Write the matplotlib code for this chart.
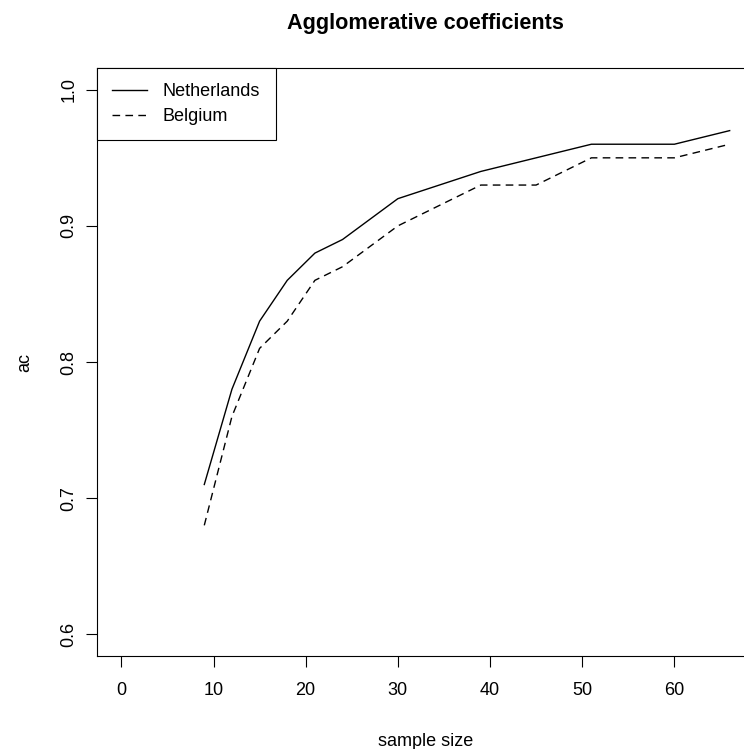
import matplotlib
matplotlib.use("Agg")
import matplotlib.pyplot as plt

sample_size = [9, 12, 15, 18, 21, 24, 30, 39, 45, 51, 60, 66]
netherlands = [0.71, 0.78, 0.83, 0.86, 0.88, 0.89, 0.92, 0.94, 0.95, 0.96, 0.96, 0.97]
belgium = [0.68, 0.76, 0.81, 0.83, 0.86, 0.87, 0.90, 0.93, 0.93, 0.95, 0.95, 0.96]
x_ticks = [0, 10, 20, 30, 40, 50, 60]
y_ticks = [0.6, 0.7, 0.8, 0.9, 1.0]
series_names = ["Netherlands", "Belgium"]

plt.rcParams['font.family'] = ['Liberation Sans', 'DejaVu Sans']
W, H = 744, 749
fig = plt.figure(figsize=(W / 100, H / 100), dpi=100)
left, right, top, bottom = 97, 754, 68, 656
ax = fig.add_axes([left / W, 1 - bottom / H, (right - left) / W, (bottom - top) / H])

lw = 1.0
ax.plot(sample_size, netherlands, color='black', lw=lw, linestyle='-', label=series_names[0])
ax.plot(sample_size, belgium, color='black', lw=lw, linestyle=(0, (5.5, 3.8)), label=series_names[1])

xmin, xmax = 0, 66
ymin, ymax = 0.6, 1.0
dx = (xmax - xmin) * 0.04
dy = (ymax - ymin) * 0.04
ax.set_xlim(xmin - dx, xmax + dx)
ax.set_ylim(ymin - dy, ymax + dy)
ax.set_xticks(x_ticks)
ax.set_xticklabels([str(v) for v in x_ticks])
ax.set_yticks(y_ticks)
ax.set_yticklabels([f"{v:.1f}" for v in y_ticks], rotation=90, va='center')

for s in ax.spines.values():
    s.set_linewidth(0.8)
    s.set_color('black')
ax.tick_params(axis='both', direction='out', length=8, width=0.8, labelsize=13, colors='black')
ax.tick_params(axis='x', pad=11)
ax.tick_params(axis='y', pad=6)

ax.set_xlabel('sample size', fontsize=13, labelpad=24)
ax.set_ylabel('ac', fontsize=13, labelpad=20)
ax.set_title('Agglomerative coefficients', fontsize=15.6, fontweight='bold', pad=28)

leg = ax.legend(loc='upper left', bbox_to_anchor=(0, 1), borderaxespad=0, frameon=True,
                fancybox=False, edgecolor='black', framealpha=1, fontsize=13,
                borderpad=0.85, handlelength=1.9, handletextpad=0.9, labelspacing=0.42)
leg.get_frame().set_linewidth(0.8)

fig.savefig('out.png', dpi=100)
